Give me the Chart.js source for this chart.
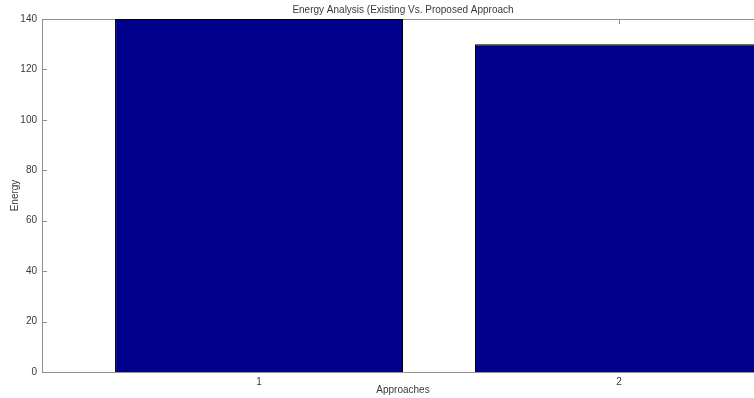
<!DOCTYPE html>
<html>
<head>
<meta charset="utf-8">
<script src="https://cdn.jsdelivr.net/npm/chart.js@4/dist/chart.umd.min.js"></script>
<style>
  html, body { margin: 0; padding: 0; background: #ffffff; overflow: hidden; }
  #wrap { width: 754px; height: 398px; overflow: hidden; }
  canvas { display: block; }
</style>
</head>
<body>
<div id="wrap"><canvas id="c" width="806" height="398"></canvas></div>
<script>
// Approaches compared and their energy values
const approaches = [1, 2];
const energy = [140, 130];
const yTicks = [0, 20, 40, 60, 80, 100, 120, 140];

const axisGray = '#8f8f8f';
const textGray = '#3a3a3a';
const fontFamily = '"Liberation Sans", Arial, sans-serif';

// Short tick marks pointing into the plot, plus the top frame line
const innerTicks = {
  id: 'innerTicks',
  beforeDatasetsDraw(chart) {
    const { ctx, chartArea: a, scales: { x, y } } = chart;
    ctx.save();
    ctx.strokeStyle = axisGray;
    ctx.lineWidth = 1;
    ctx.beginPath();
    ctx.moveTo(a.left, a.top + 0.5);
    ctx.lineTo(a.right, a.top + 0.5);
    y.ticks.forEach(t => {
      const py = Math.round(y.getPixelForValue(t.value)) + 0.5;
      ctx.moveTo(a.left, py);
      ctx.lineTo(a.left + 5, py);
      ctx.moveTo(a.right, py);
      ctx.lineTo(a.right - 5, py);
    });
    x.ticks.forEach(t => {
      const px = Math.round(x.getPixelForValue(t.value)) + 0.5;
      ctx.moveTo(px, a.bottom);
      ctx.lineTo(px, a.bottom - 5);
      ctx.moveTo(px, a.top);
      ctx.lineTo(px, a.top + 5);
    });
    ctx.stroke();
    ctx.restore();
  }
};

new Chart(document.getElementById('c'), {
  type: 'bar',
  data: {
    datasets: [{
      data: approaches.map((a, i) => ({ x: a, y: energy[i] })),
      backgroundColor: '#00008c',
      borderColor: '#000000',
      borderWidth: 1,
      barPercentage: 0.8,
      categoryPercentage: 1.0
    }]
  },
  options: {
    responsive: false,
    animation: false,
    devicePixelRatio: 1,
    layout: { padding: 0 },
    plugins: {
      legend: { display: false },
      tooltip: { enabled: false },
      title: {
        display: true,
        text: 'Energy Analysis (Existing Vs. Proposed Approach',
        color: textGray,
        font: { family: fontFamily, size: 10, weight: 'normal' },
        padding: { top: 4, bottom: 3 }
      }
    },
    scales: {
      x: {
        type: 'linear',
        offset: false,
        min: 0.397,
        max: 2.403,
        afterBuildTicks(scale) { scale.ticks = approaches.map(v => ({ value: v })); },
        afterFit(scale) { scale.height = 26; },
        grid: { display: false, drawTicks: false, offset: false },
        border: { display: true, color: axisGray, width: 1 },
        ticks: {
          color: textGray,
          font: { family: fontFamily, size: 10 },
          padding: 4,
          maxRotation: 0
        },
        title: {
          display: true,
          text: 'Approaches',
          color: textGray,
          font: { family: fontFamily, size: 10 },
          padding: { top: 0, bottom: 2 }
        }
      },
      y: {
        min: 0,
        max: 140,
        afterBuildTicks(scale) { scale.ticks = yTicks.map(v => ({ value: v })); },
        afterFit(scale) { scale.width = 42; },
        grid: { display: false, drawTicks: false },
        border: { display: true, color: axisGray, width: 1 },
        ticks: {
          color: textGray,
          font: { family: fontFamily, size: 10 },
          padding: 5
        },
        title: {
          display: true,
          text: 'Energy',
          color: textGray,
          font: { family: fontFamily, size: 10 },
          padding: { top: 9, bottom: 0 }
        }
      },
      // right-hand frame of the axes box
      yRight: {
        position: 'right',
        min: 0,
        max: 140,
        afterFit(scale) { scale.width = 42; },
        grid: { display: false, drawTicks: false },
        border: { display: true, color: axisGray, width: 1 },
        ticks: { display: false }
      }
    }
  },
  plugins: [innerTicks]
});
</script>
</body>
</html>
